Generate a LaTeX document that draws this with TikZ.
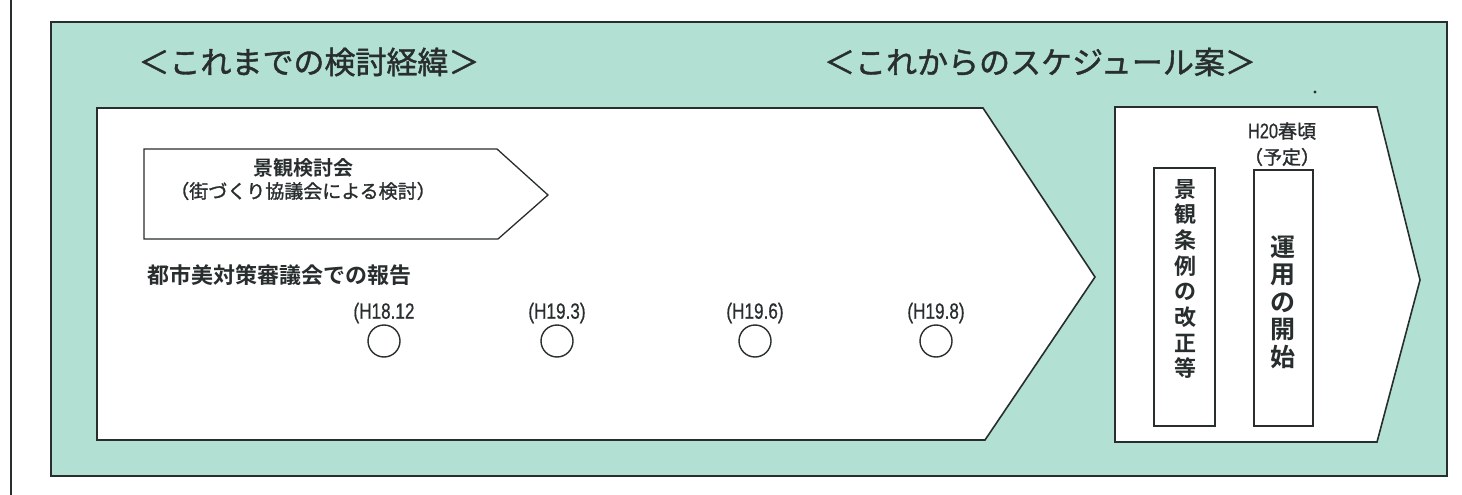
\documentclass[tikz,border=0pt]{standalone}
\usepackage{fontspec}
\newfontfamily\jp{Noto Sans CJK JP}
\newfontfamily\jpm[FakeBold=1.3]{Noto Sans CJK JP}
\newfontfamily\jpb{Noto Sans CJK JP Bold}
\newfontfamily\narrow[FakeStretch=0.78,FakeBold=0.6]{Liberation Sans}
\definecolor{teal1}{RGB}{178,224,210}
\definecolor{ink}{RGB}{40,45,45}
\begin{document}
\begin{tikzpicture}[x=1pt,y=-1pt,
  frame/.style={draw=ink,line width=1.6pt,line join=miter},
  hdr/.style={font=\jpm\fontsize{31}{31}\selectfont,text=ink,inner sep=0},
  lbl/.style={font=\jpb\fontsize{20}{23}\selectfont,text=ink,inner sep=0,align=center},
  date/.style={font=\narrow\fontsize{22}{22}\selectfont,text=ink,inner sep=0},
  ring/.style={draw=ink,line width=1.4pt,circle,minimum width=30pt,minimum height=32pt,inner sep=0},
  vbox/.style={draw=ink,line width=1.6pt}
]
\useasboundingbox (0,0) rectangle (1462,495);
\fill[white] (0,0) rectangle (1462,495);
% left rule
\draw[ink,line width=1.4pt] (11,0) -- (11,495);
% outer teal frame
\draw[frame,fill=teal1] (51,22) rectangle (1447,476);
% headers
\node[hdr] (h1) at (309,62) {＜これまでの検討経緯＞};
\node[hdr] (h2) at (1040,62) {＜これからのスケジュール案＞};
% main arrow
\draw[frame,fill=white] (97,108) -- (983,108) -- (1095,277) -- (985,440) -- (97,440) -- cycle;
% small arrow
\draw[frame,line width=1.3pt,fill=white] (144,149) -- (497,149) -- (548,195) -- (498,239) -- (144,239) -- cycle;
\node[lbl] (kk) at (303,168) {景観検討会};
\node[font=\jpm\fontsize{19}{23}\selectfont,text=ink,inner sep=0] (kk2) at (303,191) {（街づくり協議会による検討）};
% report
\node[lbl,font=\jpb\fontsize{22}{22}\selectfont,anchor=west] (rep) at (147,275) {都市美対策審議会での報告};
\node[date] (d1) at (384,313) {(H18.12};
\node[date] (d2) at (557,313) {(H19.3)};
\node[date] (d3) at (755,313) {(H19.6)};
\node[date] (d4) at (936,313) {(H19.8)};
\node[ring] (c1) at (384,341) {};
\node[ring] (c2) at (557,341) {};
\node[ring] (c3) at (755,341) {};
\node[ring] (c4) at (936,341) {};
% right arrow
\draw[frame,fill=white] (1115,107) -- (1377,107) -- (1420,280) -- (1377,442) -- (1115,442) -- cycle;
\fill[ink] (1315,92) circle (1.6pt);
\node[date,font=\narrow\fontsize{21}{21}\selectfont] (h20) at (1282,131) {H20{\jpm\fontsize{19}{19}\selectfont 春頃}};
\node[font=\jpm\fontsize{19}{19}\selectfont,text=ink,inner sep=0] (yt) at (1282,157) {（予定）};
\draw[vbox] (1154,168) rectangle (1215,426);
\draw[vbox] (1254,170) rectangle (1313,426);
\node[font=\jpb\fontsize{22}{25.7}\selectfont,text=ink,inner sep=0,align=center] (v1) at (1185,279) {景\\観\\条\\例\\の\\改\\正\\等};
\node[font=\jpb\fontsize{25}{27.5}\selectfont,text=ink,inner sep=0,align=center] (v2) at (1283,302) {運\\用\\の\\開\\始};
\end{tikzpicture}
\end{document}
